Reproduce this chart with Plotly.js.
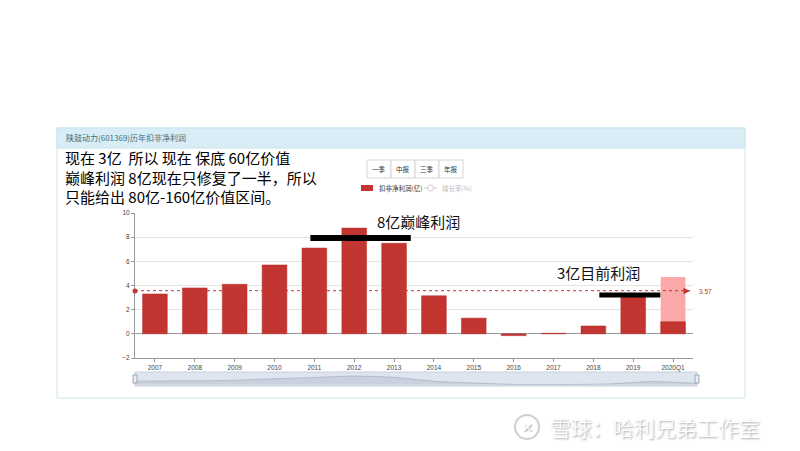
<!DOCTYPE html>
<html><head><meta charset="utf-8">
<script src="https://cdn.plot.ly/plotly-3.0.1.min.js"></script>
<style>html,body{margin:0;padding:0;background:#fff}#chart{width:800px;height:451px}</style>
</head><body><div id="chart"></div>
<script>
const years = ['2007','2008','2009','2010','2011','2012','2013','2014','2015','2016','2017','2018','2019','2020Q1'];
const profit = [3.3, 3.8, 4.1, 5.7, 7.1, 8.75, 7.5, 3.15, 1.3, -0.15, 0.05, 0.65, 3.05, 1.0];
const projected = [null, null, null, null, null, null, null, null, null, null, null, null, null, 4.7];
const avgValue = 3.57;
const buttons = ['一季', '中报', '三季', '年报'];
const panelTitle = '陕鼓动力(601369)历年扣非净利润';
const noteLines = ['现在 3亿&nbsp; 所以 现在 保底 60亿价值', '巅峰利润 8亿现在只修复了一半，所以', '只能给出 80亿-160亿价值区间。'];

const W = 800, H = 451;
const px = x => x / W, py = y => 1 - y / H;

const traces = [
  {type:'bar', x: years, y: projected, marker:{color:'#fba8a8'}, width:0.62, hoverinfo:'skip', showlegend:false},
  {type:'bar', x: years, y: profit, marker:{color:'#c23531', line:{color:'#b52b27', width:0.5}}, width:0.62, showlegend:false},
  {type:'scatter', mode:'lines', x: years, y: profit, xaxis:'x2', yaxis:'y2', line:{shape:'spline', color:'rgba(160,170,190,0.6)', width:1}, fill:'tozeroy', fillcolor:'rgba(180,190,208,0.5)', showlegend:false, hoverinfo:'skip'}
];

const shapes = [
  {type:'rect', xref:'paper', yref:'paper', x0:px(57), x1:px(745), y0:py(398), y1:py(128), line:{color:'#cfe6ee', width:1}, fillcolor:'rgba(0,0,0,0)', layer:'below'},
  {type:'rect', xref:'paper', yref:'paper', x0:px(57), x1:px(745), y0:py(148), y1:py(128), line:{color:'#c6e3ee', width:1}, fillcolor:'#d9edf6', layer:'below'},
  {type:'line', xref:'paper', yref:'y', x0:px(135), x1:px(690), y0:avgValue, y1:avgValue, line:{color:'#c23531', width:1, dash:'3px,3px'}},
  {type:'line', xref:'x', yref:'y', x0:3.9, x1:6.42, y0:7.93, y1:7.93, line:{color:'#000', width:6}},
  {type:'line', xref:'x', yref:'y', x0:11.15, x1:12.68, y0:3.22, y1:3.22, line:{color:'#000', width:5}},
  {type:'rect', xref:'paper', yref:'paper', x0:px(135), x1:px(697), y0:py(386), y1:py(372), line:{color:'#c5cfdc', width:1}, fillcolor:'#dfe5ee', layer:'below'},
  {type:'rect', xref:'paper', yref:'paper', x0:px(133), x1:px(137), y0:py(383), y1:py(375), line:{color:'#98a4b8', width:1}, fillcolor:'#e8ecf2'},
  {type:'rect', xref:'paper', yref:'paper', x0:px(695), x1:px(699), y0:py(383), y1:py(375), line:{color:'#98a4b8', width:1}, fillcolor:'#e8ecf2'},
  {type:'rect', xref:'paper', yref:'paper', x0:px(361), x1:px(373), y0:py(191), y1:py(185), line:{width:0}, fillcolor:'#c23531'},
  {type:'line', xref:'paper', yref:'paper', x0:px(424), x1:px(437), y0:py(188), y1:py(188), line:{color:'#ccc', width:1}},
  {type:'circle', xref:'paper', yref:'paper', x0:px(427.5), x1:px(433.5), y0:py(191), y1:py(185), line:{color:'#ccc', width:1}, fillcolor:'#fff'},
  {type:'circle', xref:'paper', yref:'paper', x0:px(132.5), x1:px(137.5), y0:py(293.5), y1:py(288.5), line:{width:0}, fillcolor:'#c23531'},
  {type:'circle', xref:'paper', yref:'paper', x0:px(515), x1:px(539), y0:py(439), y1:py(415), line:{color:'#d0d0d0', width:2}, fillcolor:'rgba(0,0,0,0)'}
];
const bx0 = 367, bw = 24;
buttons.forEach((b,i)=>{
  shapes.push({type:'rect', xref:'paper', yref:'paper', x0:px(bx0+i*bw), x1:px(bx0+(i+1)*bw), y0:py(178), y1:py(160), line:{color:'#d5d5d5', width:1}, fillcolor:'#fff'});
});

const annotations = [
  {xref:'paper', yref:'paper', x:px(64), y:py(138), xanchor:'left', yanchor:'middle', text:panelTitle, showarrow:false, font:{family:'Noto Sans CJK SC', size:8, color:'#3d6f80'}},
  {xref:'paper', yref:'paper', x:px(375), y:py(222), xanchor:'left', yanchor:'middle', text:'8亿巅峰利润', showarrow:false, font:{family:'Noto Sans CJK SC', size:15, color:'#111'}},
  {xref:'paper', yref:'paper', x:px(555), y:py(272), xanchor:'left', yanchor:'middle', text:'3亿目前利润', showarrow:false, font:{family:'Noto Sans CJK SC', size:15, color:'#111'}},
  {xref:'paper', yref:'paper', x:px(377), y:py(188), xanchor:'left', yanchor:'middle', text:'扣非净利润(亿)', showarrow:false, font:{family:'Noto Sans CJK SC', size:6.5, color:'#333'}},
  {xref:'paper', yref:'paper', x:px(440), y:py(188), xanchor:'left', yanchor:'middle', text:'增长率(%)', showarrow:false, font:{family:'Noto Sans CJK SC', size:6.5, color:'#bbb'}},
  {xref:'paper', yref:'paper', x:px(697), y:py(291), xanchor:'left', yanchor:'middle', text:'3.57', showarrow:false, font:{family:'Liberation Sans', size:6.5, color:'#c23531'}},
  {xref:'paper', yref:'paper', x:px(690), y:py(291), ax:px(683), ay:py(291), axref:'paper', ayref:'paper', text:'', showarrow:true, arrowhead:2, arrowsize:1.3, arrowwidth:1, arrowcolor:'#c23531'},
  {xref:'paper', yref:'paper', x:px(548), y:py(427), xanchor:'left', yanchor:'middle', text:'雪球：哈利兄弟工作室', showarrow:false, font:{family:'Noto Sans CJK SC', size:21, weight:300, color:'#ffffff', shadow:'1px 1px 2px #999'}},
  {xref:'paper', yref:'paper', x:px(527), y:py(427), xanchor:'center', yanchor:'middle', text:'✕', showarrow:false, font:{family:'DejaVu Sans', size:13, color:'#ffffff', shadow:'1px 1px 1px #999'}},
  {xref:'paper', yref:'paper', x:px(64), y:py(146), xanchor:'left', yanchor:'top', align:'left', borderpad:0, text:noteLines.join('<br>'), showarrow:false, font:{family:'Noto Sans CJK SC', size:15, color:'#000'}}
];
buttons.forEach((b,i)=>{
  annotations.push({xref:'paper', yref:'paper', x:px(bx0+i*bw+bw/2), y:py(169), xanchor:'center', yanchor:'middle', text:b, showarrow:false, font:{family:'Noto Sans CJK SC', size:6.5, color:'#333'}});
});

const layout = {
  width:W, height:H, margin:{l:0,r:0,t:0,b:0},
  paper_bgcolor:'#fff', plot_bgcolor:'#fff',
  barmode:'overlay', bargap:0.38,
  showlegend:false,
  xaxis:{domain:[px(135), px(693)], type:'category', showgrid:false, showline:true, linecolor:'#999', linewidth:1,
         ticks:'outside', ticklen:3, tickcolor:'#999', tickfont:{family:'Liberation Sans', size:6.5, color:'#444'}, anchor:'y', fixedrange:true},
  yaxis:{domain:[py(358), py(213)], range:[-2,10], dtick:2, showgrid:true, gridcolor:'#e4e4e4', gridwidth:1,
         zeroline:true, zerolinecolor:'#999', zerolinewidth:1, showline:true, linecolor:'#999', ticks:'outside', ticklen:3, tickcolor:'#999',
         tickfont:{family:'Liberation Sans', size:6.5, color:'#444'}, fixedrange:true},
  xaxis2:{domain:[px(136), px(696)], type:'category', visible:false, anchor:'y2', range:[0,13]},
  yaxis2:{domain:[py(385), py(373)], range:[-0.5, 12], visible:false},
  shapes, annotations
};
Plotly.newPlot('chart', traces, layout, {staticPlot:true});
</script>
</body></html>
